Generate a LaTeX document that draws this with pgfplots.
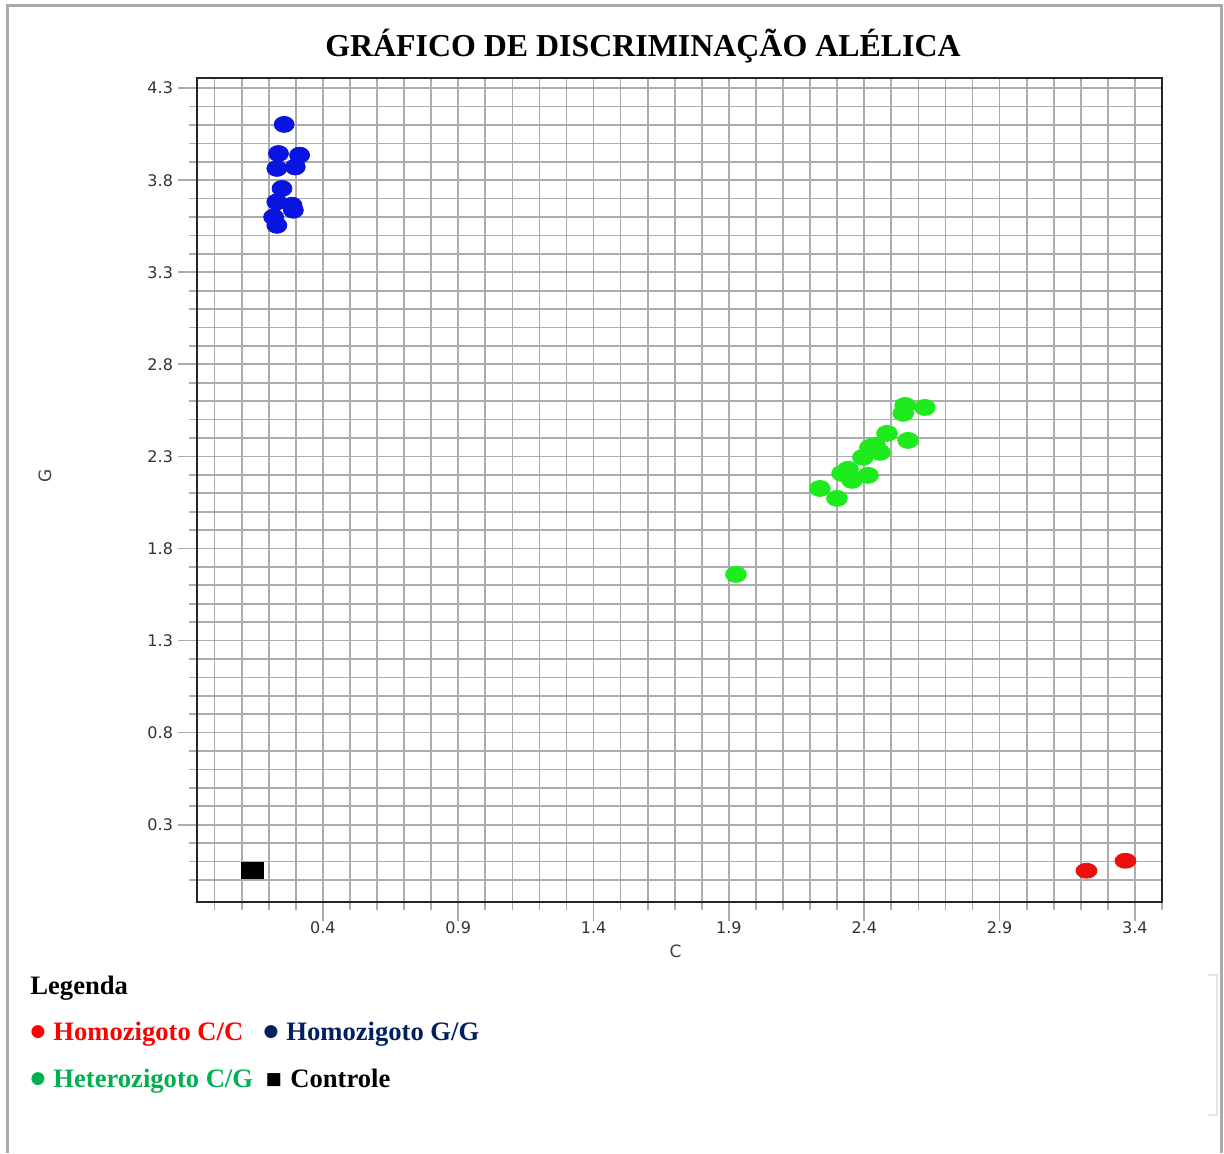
\documentclass[border=0pt]{standalone}
\usepackage{fontspec}
\setmainfont{Liberation Serif}
\newfontfamily\tickfont{DejaVu Sans}
\newfontfamily\symfont{DejaVu Sans}
\usepackage{pgfplots}
\pgfplotsset{compat=1.18}
\definecolor{gridgray}{RGB}{172,172,172}
\definecolor{framegray}{RGB}{170,170,170}
\definecolor{ptblue}{RGB}{10,20,225}
\definecolor{ptgreen}{RGB}{30,235,30}
\definecolor{ptred}{RGB}{235,15,15}
\definecolor{legred}{RGB}{255,0,0}
\definecolor{legnavy}{RGB}{0,32,96}
\definecolor{leggreen}{RGB}{0,176,80}
\begin{document}
\begin{tikzpicture}
\path[use as bounding box] (0,0) rectangle (612pt,-576.5pt);
\begin{scope}[x=0.5pt,y=-0.5pt]
\draw[framegray, line width=1.5pt] (7,1153) -- (7,5) -- (1221,5) -- (1221,1153);
\draw[gray!20, line width=0.6pt] (1208,975) -- (1217,975) -- (1217,1115) -- (1208,1115);
\node[font=\fontsize{15.95}{18}\selectfont\bfseries] at (643,46) {GRÁFICO DE DISCRIMINAÇÃO ALÉLICA};
\node[anchor=base west, inner sep=0, font=\fontsize{13.3}{15}\selectfont\bfseries] at (30,994) {Legenda};
\node[inner sep=0, legred, font=\fontsize{8.5}{10}\selectfont\symfont] at (38,1032) {●};
\node[anchor=base west, inner sep=0, legred, font=\fontsize{13.3}{15}\selectfont\bfseries] at (53,1040) {Homozigoto C/C};
\node[inner sep=0, legnavy, font=\fontsize{8.5}{10}\selectfont\symfont] at (271,1032) {●};
\node[anchor=base west, inner sep=0, legnavy, font=\fontsize{13.3}{15}\selectfont\bfseries] at (286,1040) {Homozigoto G/G};
\node[inner sep=0, leggreen, font=\fontsize{8.5}{10}\selectfont\symfont] at (38,1079) {●};
\node[anchor=base west, inner sep=0, leggreen, font=\fontsize{13.3}{15}\selectfont\bfseries] at (53,1087) {Heterozigoto C/G};
\node[inner sep=0, black, font=\fontsize{8.5}{10}\selectfont\symfont] at (274,1080) {■};
\node[anchor=base west, inner sep=0, black, font=\fontsize{13.3}{15}\selectfont\bfseries] at (290,1087) {Controle};
\end{scope}
\begin{axis}[
  at={(98.5pt,-451pt)}, anchor=south west,
  scale only axis, width=482.5pt, height=412pt,
  xmin=-0.065, xmax=3.5, ymin=-0.12, ymax=4.355,
  xtick={0.4,0.9,1.4,1.9,2.4,2.9,3.4},
  xticklabels={0.4,0.9,1.4,1.9,2.4,2.9,3.4},
  ytick={0.3,0.8,1.3,1.8,2.3,2.8,3.3,3.8,4.3},
  yticklabels={0.3,0.8,1.3,1.8,2.3,2.8,3.3,3.8,4.3},
  minor xtick={0,0.1,0.2,0.3,0.5,0.6,0.7,0.8,1.0,1.1,1.2,1.3,1.5,1.6,1.7,1.8,2.0,2.1,2.2,2.3,2.5,2.6,2.7,2.8,3.0,3.1,3.2,3.3,3.5},
  minor ytick={0,0.1,0.2,0.4,0.5,0.6,0.7,0.9,1.0,1.1,1.2,1.4,1.5,1.6,1.7,1.9,2.0,2.1,2.2,2.4,2.5,2.6,2.7,2.9,3.0,3.1,3.2,3.4,3.5,3.6,3.7,3.9,4.0,4.1,4.2},
  xtick pos=bottom, ytick pos=left,
  grid=both,
  major grid style={gridgray, line width=0.85pt},
  minor grid style={gridgray, line width=0.85pt},
  tick align=outside, major tick length=9.5pt, minor tick length=4pt,
  every tick/.style={gridgray, line width=0.85pt},
  axis line style={black!85, line width=1.2pt},
  tick label style={font=\tickfont\fontsize{8}{9}\selectfont, text=black!80},
  xticklabel style={yshift=3pt},
  yticklabel style={xshift=1pt},
  label style={font=\tickfont\fontsize{8.5}{9}\selectfont, text=black!75},
  xlabel={C}, ylabel={G},
  xlabel style={at={(axis description cs:0.496,-0.0595)}, anchor=center},
  ylabel style={at={(axis description cs:-0.1575,0.517)}, anchor=center},
  clip=false,
]
\addplot[only marks, mark=*, mark size=4pt, mark options={ptblue, draw=ptblue, fill=ptblue, xscale=1.25}] coordinates {
(0.257,4.103) (0.236,3.945) (0.314,3.936) (0.230,3.864) (0.298,3.872)
(0.249,3.755) (0.230,3.682) (0.286,3.664) (0.291,3.637) (0.218,3.600) (0.230,3.555)
};
\addplot[only marks, mark=*, mark size=4pt, mark options={ptgreen, draw=ptgreen, fill=ptgreen, xscale=1.3}] coordinates {
(2.236,2.126) (2.299,2.072) (2.318,2.208) (2.355,2.170) (2.340,2.230) (2.414,2.197)
(2.395,2.295) (2.421,2.349) (2.458,2.322) (2.440,2.360) (2.484,2.425) (2.562,2.387)
(2.544,2.534) (2.551,2.577) (2.624,2.566) (1.926,1.659)
};
\addplot[only marks, mark=*, mark size=3.75pt, mark options={ptred, draw=ptred, fill=ptred, xscale=1.4}] coordinates {
(3.221,0.050) (3.365,0.104)
};
\addplot[only marks, mark=square*, mark size=4pt, mark options={black, fill=black, xscale=1.375}] coordinates {
(0.138,0.054)
};
\end{axis}
\end{tikzpicture}
\end{document}
